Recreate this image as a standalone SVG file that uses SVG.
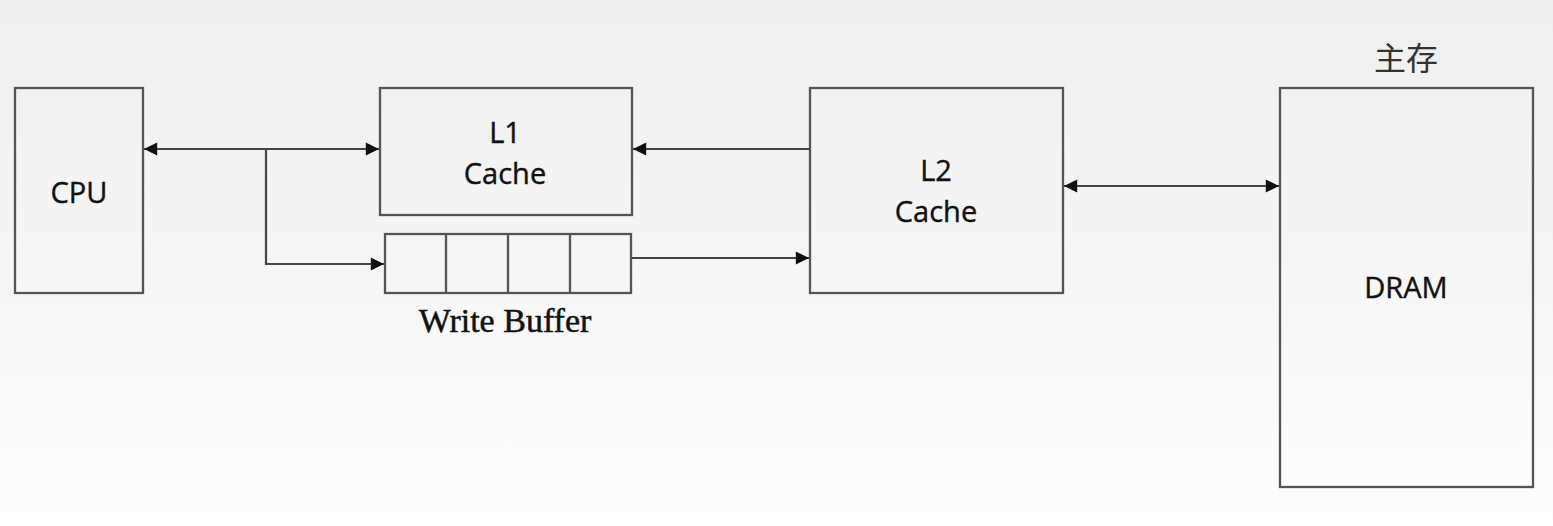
<svg xmlns="http://www.w3.org/2000/svg" width="1553" height="526" viewBox="0 0 1553 526">
<defs>
<linearGradient id="bg" x1="0" y1="0" x2="0" y2="1">
<stop offset="0" stop-color="#efefef"/>
<stop offset="1" stop-color="#fdfdfd"/>
</linearGradient>
<marker id="ah" viewBox="0 0 10 10" refX="10" refY="5" markerWidth="6.5" markerHeight="6" markerUnits="strokeWidth" orient="auto-start-reverse">
<path d="M0,0 L10,5 L0,10 z" fill="#111"/>
</marker>
<style>
.box{fill:none;stroke:#555;stroke-width:2.3}
.ln{fill:none;stroke:#444;stroke-width:2.2}
.t{font-family:"Open Sans","DejaVu Sans",sans-serif;font-size:29px;fill:#111;stroke:#111;stroke-width:0.4;text-anchor:middle}
.s{font-family:"Liberation Serif",serif;font-size:34px;fill:#111;stroke:#111;stroke-width:0.5;text-anchor:middle}
.c{font-family:"Noto Sans CJK SC",sans-serif;font-size:32px;fill:#333;text-anchor:middle}
</style>
</defs>
<rect width="1553" height="526" fill="url(#bg)"/>
<g id="cpu">
<rect class="box" x="15" y="88" width="128" height="205"/>
<text class="t" x="79" y="203">CPU</text>
</g>
<g id="l1">
<rect class="box" x="380" y="88" width="252" height="127"/>
<text class="t" x="505" y="143">L1</text>
<text class="t" x="505" y="184">Cache</text>
</g>
<g id="writebuffer">
<rect class="box" x="385" y="234" width="246" height="59"/>
<line class="box" x1="446" y1="234" x2="446" y2="293"/>
<line class="box" x1="508" y1="234" x2="508" y2="293"/>
<line class="box" x1="570" y1="234" x2="570" y2="293"/>
<text class="s" x="505" y="332">Write Buffer</text>
</g>
<g id="l2">
<rect class="box" x="810" y="88" width="253" height="205"/>
<text class="t" x="936" y="181">L2</text>
<text class="t" x="936" y="222">Cache</text>
</g>
<g id="dram">
<text class="c" x="1406" y="70">主存</text>
<rect class="box" x="1280" y="88" width="253" height="399"/>
<text class="t" x="1406" y="298">DRAM</text>
</g>
<g id="connectors">
<line class="ln" x1="144" y1="149" x2="379" y2="149" marker-start="url(#ah)" marker-end="url(#ah)"/>
<polyline class="ln" points="266,149 266,264 384,264" marker-end="url(#ah)"/>
<line class="ln" x1="810" y1="149" x2="633" y2="149" marker-end="url(#ah)"/>
<line class="ln" x1="632" y1="258" x2="809" y2="258" marker-end="url(#ah)"/>
<line class="ln" x1="1064" y1="186" x2="1279" y2="186" marker-start="url(#ah)" marker-end="url(#ah)"/>
</g>
</svg>
